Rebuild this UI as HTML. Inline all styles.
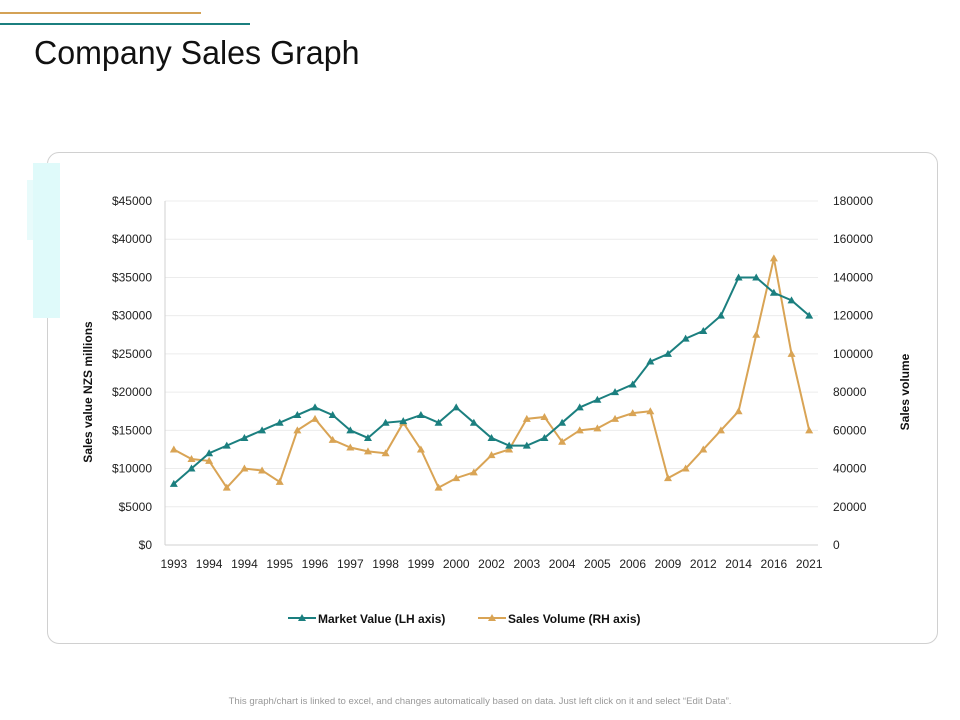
<!DOCTYPE html>
<html><head><meta charset="utf-8"><style>
body{margin:0;width:960px;height:720px;background:#fff;font-family:"Liberation Sans",sans-serif;position:relative;overflow:hidden}
.abs{position:absolute}
</style></head><body>
<div class="abs" style="left:0;top:12px;width:201px;height:2px;background:#d4a256"></div>
<div class="abs" style="left:0;top:23px;width:250px;height:2px;background:#1b7f7f"></div>
<div class="abs" style="left:34px;top:34px;font-size:33px;color:#111;transform:scaleX(0.975);transform-origin:left">Company Sales Graph</div>
<div class="abs" style="left:47px;top:152px;width:889px;height:490px;border:1px solid #d0d0d0;border-radius:12px"></div>
<div class="abs" style="left:33px;top:163px;width:27px;height:155px;background:#dffafa"></div>
<div class="abs" style="left:27px;top:180px;width:6px;height:60px;background:#e8fbfb"></div>
<svg class="abs" style="left:0;top:0" width="960" height="720">
<g id="g"></g>
</svg>
<div class="abs" style="left:0;width:960px;top:696px;text-align:center;font-size:9.6px;color:#999">This graph/chart is linked to excel, and changes automatically based on data. Just left click on it and select “Edit Data”.</div>
<script>
const labels=["1993","","1994","","1994","","1995","","1996","","1997","","1998","","1999","","2000","","2002","","2003","","2004","","2005","","2006","","2009","","2012","","2014","","2016","","2021"];
const marketValue=[8000,10000,12000,13000,14000,15000,16000,17000,18000,17000,15000,14000,16000,16200,17000,16000,18000,16000,14000,13000,13000,14000,16000,18000,19000,20000,21000,24000,25000,27000,28000,30000,35000,35000,33000,32000,30000];
const salesVolume=[50000,45000,44000,30000,40000,39000,33000,60000,66000,55000,51000,49000,48000,64000,50000,30000,35000,38000,47000,50000,66000,67000,54000,60000,61000,66000,69000,70000,35000,40000,50000,60000,70000,110000,150000,100000,60000];
const leftTicks=[0,5000,10000,15000,20000,25000,30000,35000,40000,45000];
const rightTicks=[0,20000,40000,60000,80000,100000,120000,140000,160000,180000];
const NS="http://www.w3.org/2000/svg",g=document.getElementById('g');
const x0=165,x1=818,yb=545,yt=201;
const n=labels.length,step=(x1-x0)/n;
const xs=i=>x0+step*(i+0.5);
const yl=v=>yb-(v/45000)*(yb-yt);
const yr=v=>yb-(v/180000)*(yb-yt);
function el(t,a,txt){const e=document.createElementNS(NS,t);for(const k in a)e.setAttribute(k,a[k]);if(txt!=null)e.textContent=txt;g.appendChild(e);return e;}
leftTicks.forEach((v,i)=>{
 const gl=el('line',{x1:x0,x2:x1,y1:yl(v),y2:yl(v),stroke:i==0?'#d0d0d0':'#ececec'});
 
 const t=el('text',{x:152,y:yl(v)+4,'text-anchor':'end','font-size':12,fill:'#222'},'$'+v);
 
});
rightTicks.forEach(v=>{
 const t=el('text',{x:833,y:yr(v)+4,'font-size':12,fill:'#222'},String(v));
 
});
const ax=el('line',{x1:x0,x2:x0,y1:yt,y2:yb,stroke:'#d0d0d0'});

labels.forEach((l,i)=>{if(!l)return;
 const t=el('text',{x:xs(i),y:568,'text-anchor':'middle','font-size':12,fill:'#222'},l);
 });
function series(vals,yf,col,name){
 const p=el('polyline',{points:vals.map((v,i)=>xs(i)+','+yf(v)).join(' '),fill:'none',stroke:col,'stroke-width':2});
 
 vals.forEach((v,i)=>{const x=xs(i),y=yf(v);
  const m=el('polygon',{points:`${x},${y-4} ${x-4},${y+3} ${x+4},${y+3}`,fill:col});
  });
}
series(salesVolume,yr,'#d9a455','sales-volume');
series(marketValue,yl,'#1b7f7f','market-value');
const yt1=el('text',{transform:'translate(92,392) rotate(-90)','text-anchor':'middle','font-size':12,'font-weight':'bold',fill:'#111'},'Sales value NZS millions');

const yt2=el('text',{transform:'translate(909,392) rotate(-90)','text-anchor':'middle','font-size':12,'font-weight':'bold',fill:'#111'},'Sales  volume');

function legend(x,col,label,name){
 const l=el('line',{x1:x,x2:x+28,y1:618,y2:618,stroke:col,'stroke-width':2});
 
 const m=el('polygon',{points:`${x+14},614 ${x+10},621 ${x+18},621`,fill:col});
 
 const t=el('text',{x:x+30,y:623,'font-size':12,'font-weight':'bold',fill:'#111'},label);
 
}
legend(288,'#1b7f7f','Market Value (LH axis)','market-value');
legend(478,'#d9a455','Sales Volume (RH axis)','sales-volume');
</script>
</body></html>
